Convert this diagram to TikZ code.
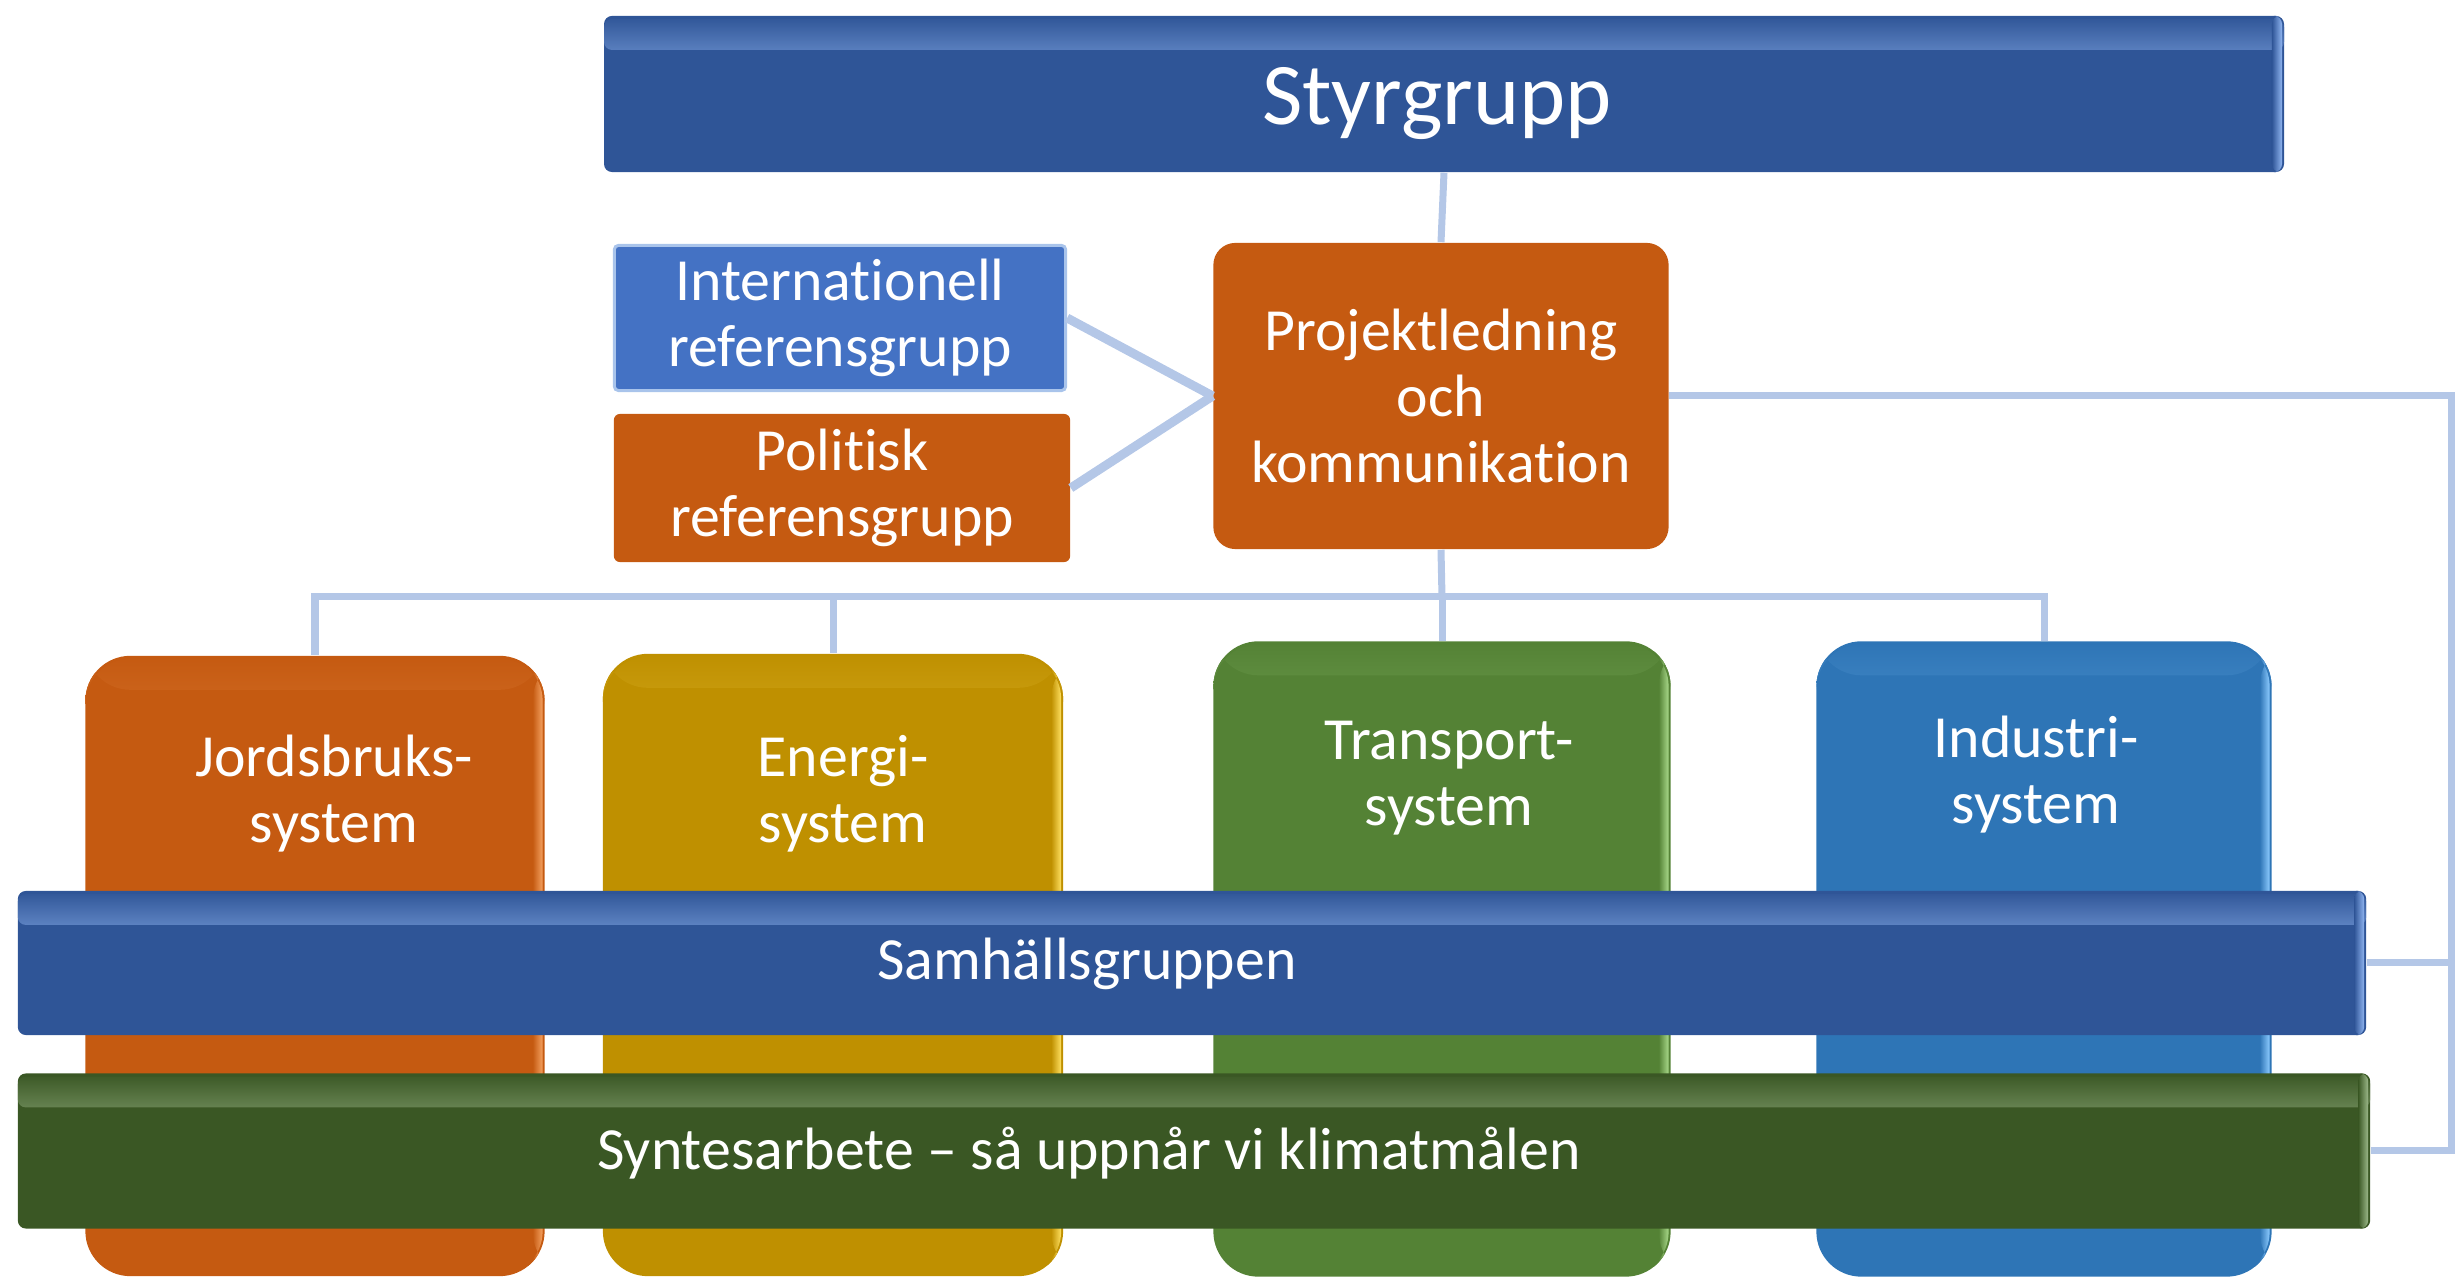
\documentclass[tikz,border=0pt]{standalone}
\usepackage{fontspec}
\setmainfont{Carlito}[Ligatures=CommonOff]
\definecolor{conn}{HTML}{B4C7E7}
\definecolor{dblue}{HTML}{2F5597}
\definecolor{dblueL}{HTML}{8FB4F0}
\definecolor{mblue}{HTML}{4472C4}
\definecolor{mblueE}{HTML}{A9C4EB}
\definecolor{orng}{HTML}{C55A11}
\definecolor{orngL}{HTML}{F4A060}
\definecolor{gold}{HTML}{BF9000}
\definecolor{goldL}{HTML}{FFE060}
\definecolor{grn}{HTML}{548235}
\definecolor{grnL}{HTML}{A9D98A}
\definecolor{iblue}{HTML}{2E75B6}
\definecolor{iblueL}{HTML}{8CCBFF}
\definecolor{dgrn}{HTML}{3A5724}
\definecolor{dgrnL}{HTML}{9DB98A}
\begin{document}
\begin{tikzpicture}[x=0.01cm,y=-0.01cm,
  conn/.style={draw=conn, line width=0.07cm},
  box/.style={draw=none, inner sep=0pt, text=white, align=center,
    font=\fontsize{17}{18.8}\selectfont},
  lbl/.style={inner sep=0pt, text=white, align=center,
    font=\fontsize{17}{18.8}\selectfont},
  gloss/.style 2 args={fill=#1, path picture={
    \shade[top color=#1, bottom color=#1, middle color=#2]
      ([yshift=-0.03cm]path picture bounding box.north west) rectangle
      ([yshift=-0.34cm]path picture bounding box.north east);
    \shade[left color=#1, right color=#2]
      ([xshift=-0.12cm]path picture bounding box.north east) rectangle
      ([xshift=-0.02cm]path picture bounding box.south east);
  }},
]
\useasboundingbox (0,0) rectangle (2456,1277);

% upper part
\node[box, gloss={dblue}{dblueL}, minimum width=16.79cm, minimum height=1.56cm,
  rounded corners=0.08cm] (styr) at (1444,94) {};
\node[lbl, font=\fontsize{25}{30}\selectfont] (styrT) at (1437,104) {Styrgrupp};
\node[box, fill=mblue, draw=mblueE, line width=0.03cm, minimum width=4.51cm,
  minimum height=1.45cm, rounded corners=0.04cm] (intl) at (840,318) {Internationell\\referensgrupp};
\node[box, fill=orng, minimum width=4.56cm, minimum height=1.48cm,
  rounded corners=0.06cm] (pol) at (842,488) {Politisk\\referensgrupp};
\node[box, fill=orng, minimum width=4.55cm, minimum height=3.06cm,
  rounded corners=0.22cm] (proj) at (1441,396) {Projektledning\\och\\kommunikation};

% columns
\node[box, gloss={orng}{orngL}, minimum width=4.59cm, minimum height=6.20cm,
  rounded corners=0.45cm] (jord) at (315,966) {};
\node[box, gloss={gold}{goldL}, minimum width=4.60cm, minimum height=6.22cm,
  rounded corners=0.45cm] (ener) at (833,965) {};
\node[box, gloss={grn}{grnL}, minimum width=4.57cm, minimum height=6.35cm,
  rounded corners=0.45cm] (trans) at (1442,959) {};
\node[box, gloss={iblue}{iblueL}, minimum width=4.55cm, minimum height=6.35cm,
  rounded corners=0.45cm] (ind) at (2044,959) {};
\node[lbl] (jordT) at (334,794) {Jordsbruks-\\system};
\node[lbl] (enerT) at (843,794) {Energi-\\system};
\node[lbl] (transT) at (1449,778) {Transport-\\system};
\node[lbl] (indT) at (2036,775) {Industri-\\system};

% bars
\node[box, gloss={dblue}{dblueL}, minimum width=23.47cm, minimum height=1.44cm,
  rounded corners=0.08cm] (samh) at (1192,963) {};
\node[box, gloss={dgrn}{dgrnL}, minimum width=23.51cm, minimum height=1.55cm,
  rounded corners=0.08cm] (synt) at (1194,1151) {};
\node[lbl] (samhT) at (1087,964) {Samhällsgruppen};
\node[lbl] (syntT) at (1089,1153) {Syntesarbete – så uppnår vi klimatmålen};

% connectors
\coordinate (bus) at (1442,597);
\coordinate (rr) at (2451,1151);
\draw[conn] (styr.south) -- (proj.north);
\draw[conn, line width=0.09cm] (intl.east) -- (proj.west);
\draw[conn, line width=0.09cm] (pol.east) -- (proj.west);
\draw[conn] (proj.south) -- (bus);
\draw[conn] (jord.north) |- (bus);
\draw[conn] (ener.north) |- (bus);
\draw[conn] (trans.north) -- (bus);
\draw[conn] (ind.north) |- (bus);
\draw[conn] (proj.east) -| (rr) -- (synt.east);
\draw[conn] (samh.east) -- (samh.east -| rr);
\end{tikzpicture}
\end{document}
